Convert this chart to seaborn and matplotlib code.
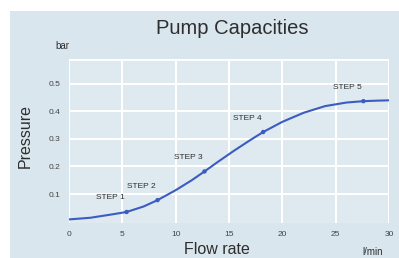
import matplotlib
matplotlib.use('Agg')
import matplotlib.pyplot as plt
import matplotlib.patches as mpatches
import seaborn as sns
import pandas as pd

# ─── Données ────────────────────────────────────────────────────────────────
curve_x = [0, 2, 4, 5.4, 7, 8.3, 10, 11.5, 12.7, 14, 15.5, 17, 18.2,
           20, 22, 24, 26, 27.6, 29, 30]
curve_y = [0.008, 0.014, 0.026, 0.035, 0.055, 0.078, 0.114, 0.150, 0.182,
           0.218, 0.258, 0.296, 0.325, 0.362, 0.395, 0.419, 0.432, 0.437,
           0.439, 0.440]

step_x = [5.4, 8.3, 12.7, 18.2, 27.6]
step_y = [0.035, 0.078, 0.182, 0.325, 0.437]
step_labels = ['STEP 1', 'STEP 2', 'STEP 3', 'STEP 4', 'STEP 5']

x_ticks = [0, 5, 10, 15, 20, 25, 30]
y_ticks = [0.1, 0.2, 0.3, 0.4, 0.5]

# ─── Style ──────────────────────────────────────────────────────────────────
sns.set_style('white')
plt.rcParams['font.family'] = ['Liberation Sans', 'DejaVu Sans']

BG = '#d9e6ee'
PLOT_BG = '#dee9f0'
LINE = '#3b5cc0'
TXT = '#2e2e2e'

fig = plt.figure(figsize=(3.99, 2.58), dpi=100, facecolor='white')
fig.patches.append(mpatches.Rectangle((10 / 399, 0), 1, (258 - 11) / 258,
                                      transform=fig.transFigure,
                                      facecolor=BG, edgecolor='none', zorder=-5))

ax = fig.add_axes([69 / 399, (258 - 223) / 258, 320 / 399, 164 / 258])
ax.set_facecolor(PLOT_BG)

df = pd.DataFrame({'x': curve_x, 'y': curve_y})
sns.lineplot(data=df, x='x', y='y', color=LINE, linewidth=1.5, ax=ax, zorder=3)
sns.scatterplot(x=step_x, y=step_y, color=LINE, s=10, edgecolor='none', ax=ax, zorder=4)

for sx, sy, lab in zip(step_x, step_y, step_labels):
    ax.annotate(lab, (sx, sy), xytext=(-16, 14), textcoords='offset pixels',
                ha='center', va='center', fontsize=6, color=TXT)

ax.set_xlim(0, 30)
ax.set_ylim(-0.005, 0.59)
ax.set_xticks(x_ticks)
ax.set_yticks(y_ticks)
ax.set_xticklabels([str(t) for t in x_ticks])
ax.set_yticklabels([f'{t:.1f}' for t in y_ticks])
ax.tick_params(axis='both', labelsize=6, colors='#444444', length=0, pad=6)
ax.grid(True, color='white', linewidth=1.5)
ax.axhline(0.59, color='white', linewidth=2)
for s in ax.spines.values():
    s.set_visible(False)
ax.set_xlabel('')
ax.set_ylabel('')

fig.text(232 / 399, 1 - 28 / 258, 'Pump Capacities', ha='center', va='center',
         fontsize=14.5, color=TXT)
fig.text(62 / 399, 1 - 46 / 258, 'bar', ha='center', va='center',
         fontsize=7, color=TXT)
fig.text(25 / 399, 1 - 136 / 258, 'Pressure', ha='center', va='center',
         rotation=90, fontsize=11.5, color=TXT)
fig.text(217 / 399, 1 / 258, 'Flow rate', ha='center', va='bottom',
         fontsize=11.5, color=TXT)
fig.text(373 / 399, 1 / 258, 'l/min', ha='center', va='bottom',
         fontsize=7, color=TXT)

fig.savefig('out.png', dpi=100, facecolor=fig.get_facecolor())
